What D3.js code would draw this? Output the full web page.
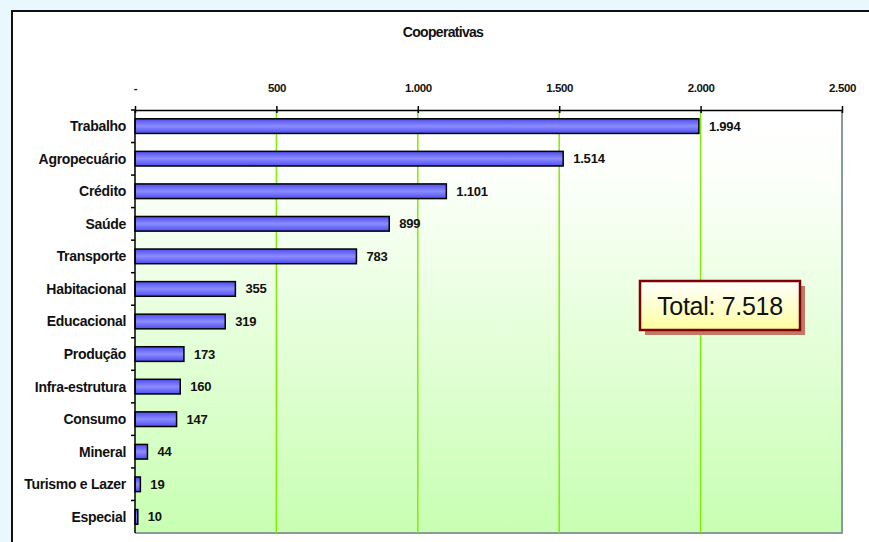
<!DOCTYPE html>
<html>
<head>
<meta charset="utf-8">
<script src="https://cdn.jsdelivr.net/npm/d3@7"></script>
<style>
  body { margin: 0; background: #e9f8fc; overflow: hidden; }
  svg { display: block; }
  text { font-family: "Liberation Sans", Arial, sans-serif; fill: #111; }
</style>
</head>
<body>
<svg id="chart" width="869" height="542"></svg>
<script>
"use strict";

const categories = ["Trabalho", "Agropecuário", "Crédito", "Saúde", "Transporte", "Habitacional",
    "Educacional", "Produção", "Infra-estrutura", "Consumo", "Mineral", "Turismo e Lazer", "Especial"];
const values = [1994, 1514, 1101, 899, 783, 355, 319, 173, 160, 147, 44, 19, 10];
const tickValues = [0, 500, 1000, 1500, 2000, 2500];
const tickLabels = ["-", "500", "1.000", "1.500", "2.000", "2.500"];
const title = "Cooperativas";
const totalLabel = "Total: 7.518";

const fmt = (v) => v >= 1000 ? d3.format(",")(v).replace(/,/g, ".") : String(v);

const svg = d3.select("#chart");

const plot = { left: 135, top: 110, right: 842, bottom: 533 };
const width = plot.right - plot.left;
const height = plot.bottom - plot.top;

const defs = svg.append("defs");

const bg = defs.append("linearGradient").attr("id", "bg").attr("x1", 0).attr("y1", 0).attr("x2", 0).attr("y2", 1);
bg.append("stop").attr("offset", "0%").attr("stop-color", "#ffffff");
bg.append("stop").attr("offset", "15%").attr("stop-color", "#fdfffb");
bg.append("stop").attr("offset", "100%").attr("stop-color", "#c8ffb2");

const barGrad = defs.append("linearGradient").attr("id", "barGrad").attr("x1", 0).attr("y1", 0).attr("x2", 0).attr("y2", 1);
barGrad.append("stop").attr("offset", "0%").attr("stop-color", "#4d4df0");
barGrad.append("stop").attr("offset", "50%").attr("stop-color", "#8c8cff");
barGrad.append("stop").attr("offset", "100%").attr("stop-color", "#4d4df0");

const boxGrad = defs.append("linearGradient").attr("id", "boxGrad").attr("x1", 0).attr("y1", 0).attr("x2", 0).attr("y2", 1);
boxGrad.append("stop").attr("offset", "0%").attr("stop-color", "#ffffff");
boxGrad.append("stop").attr("offset", "100%").attr("stop-color", "#ffffa0");

// chart frame (only top and left edges are inside the picture)
svg.append("rect")
    .attr("x", 12).attr("y", 11).attr("width", 857).attr("height", 531)
    .attr("fill", "#ffffff");
svg.append("path")
    .attr("d", "M12,542V11H869")
    .attr("fill", "none").attr("stroke", "#111").attr("stroke-width", 2);

svg.append("text")
    .attr("x", 443).attr("y", 37)
    .attr("text-anchor", "middle")
    .style("font-size", "14px")
    .style("font-weight", "bold")
    .style("letter-spacing", "-0.7px")
    .text(title);

const chart = svg.append("g").attr("transform", `translate(${plot.left}, ${plot.top})`);

const xScale = d3.scaleLinear().domain([0, 2500]).range([0, width]);
const yScale = d3.scaleBand().domain(categories).range([0, height]).paddingInner(0.55).paddingOuter(0.27);
const yBand = d3.scaleBand().domain(categories).range([0, height]);

// plot background with shadowed right/bottom edges
chart.append("rect")
    .attr("x", 0).attr("y", 0).attr("width", width).attr("height", height)
    .attr("fill", "url(#bg)");
chart.append("path")
    .attr("d", `M${width},0V${height}H0`)
    .attr("fill", "none").attr("stroke", "#8a9a9a").attr("stroke-width", 2);

// gridlines
chart.append("g")
    .selectAll("line")
    .data(tickValues.filter((t) => t > 0 && t < 2500))
    .enter().append("line")
    .attr("x1", (t) => xScale(t)).attr("x2", (t) => xScale(t))
    .attr("y1", 0).attr("y2", height)
    .attr("stroke", "#80ee00").attr("stroke-width", 1.5);

// bars
const barGroups = chart.selectAll(".bar").data(categories).enter().append("g");

barGroups.append("rect")
    .attr("x", 0)
    .attr("y", (c) => yScale(c))
    .attr("width", (c, i) => xScale(values[i]))
    .attr("height", yScale.bandwidth())
    .attr("fill", "url(#barGrad)")
    .attr("stroke", "#000").attr("stroke-width", 1.5);

barGroups.append("text")
    .attr("x", (c, i) => xScale(values[i]) + 10)
    .attr("y", (c) => yScale(c) + yScale.bandwidth() / 2)
    .attr("dy", "0.35em")
    .style("font-size", "13px")
    .style("font-weight", "bold")
    .style("letter-spacing", "-0.2px")
    .text((c, i) => fmt(values[i]));

// top axis
const topAxis = chart.append("g")
    .call(d3.axisTop(xScale).tickValues(tickValues).tickFormat((d, i) => tickLabels[i]).tickSize(4).tickSizeOuter(0));
topAxis.select(".domain").attr("stroke", "#000").attr("stroke-width", 1.5);
topAxis.selectAll(".tick line").attr("stroke", "#000").attr("stroke-width", 1.5).attr("y2", -4).attr("y1", 3);
topAxis.selectAll(".tick text")
    .attr("y", -18)
    .attr("font-family", null)
    .attr("font-size", null)
    .style("font-size", "11.5px")
    .style("font-weight", "bold")
    .style("letter-spacing", "-0.4px");

// left axis with ticks at band boundaries
const leftAxis = chart.append("g");
leftAxis.append("line")
    .attr("x1", 0).attr("x2", 0).attr("y1", 0).attr("y2", height)
    .attr("stroke", "#000").attr("stroke-width", 1.5);
leftAxis.selectAll(".bt").data(categories).enter().append("line")
    .attr("x1", -4).attr("x2", 0)
    .attr("y1", (c) => yBand(c)).attr("y2", (c) => yBand(c))
    .attr("stroke", "#000").attr("stroke-width", 1.5);
leftAxis.selectAll(".lbl").data(categories).enter().append("text")
    .attr("x", -9)
    .attr("y", (c) => yScale(c) + yScale.bandwidth() / 2)
    .attr("dy", "0.35em")
    .attr("text-anchor", "end")
    .style("font-size", "14px")
    .style("font-weight", "bold")
    .style("letter-spacing", "-0.3px")
    .text((c) => c);

// total box
const box = svg.append("g").attr("transform", "translate(640, 281)");
box.append("rect").attr("x", 5).attr("y", 5).attr("width", 160).attr("height", 49).attr("fill", "#c07a66");
box.append("rect").attr("x", 0).attr("y", 0).attr("width", 160).attr("height", 49)
    .attr("fill", "url(#boxGrad)").attr("stroke", "#800000").attr("stroke-width", 2.5);
box.append("text")
    .attr("x", 80).attr("y", 25).attr("dy", "0.35em")
    .attr("text-anchor", "middle")
    .style("font-size", "25px")
    .style("letter-spacing", "-0.3px")
    .text(totalLabel);
</script>
</body>
</html>
